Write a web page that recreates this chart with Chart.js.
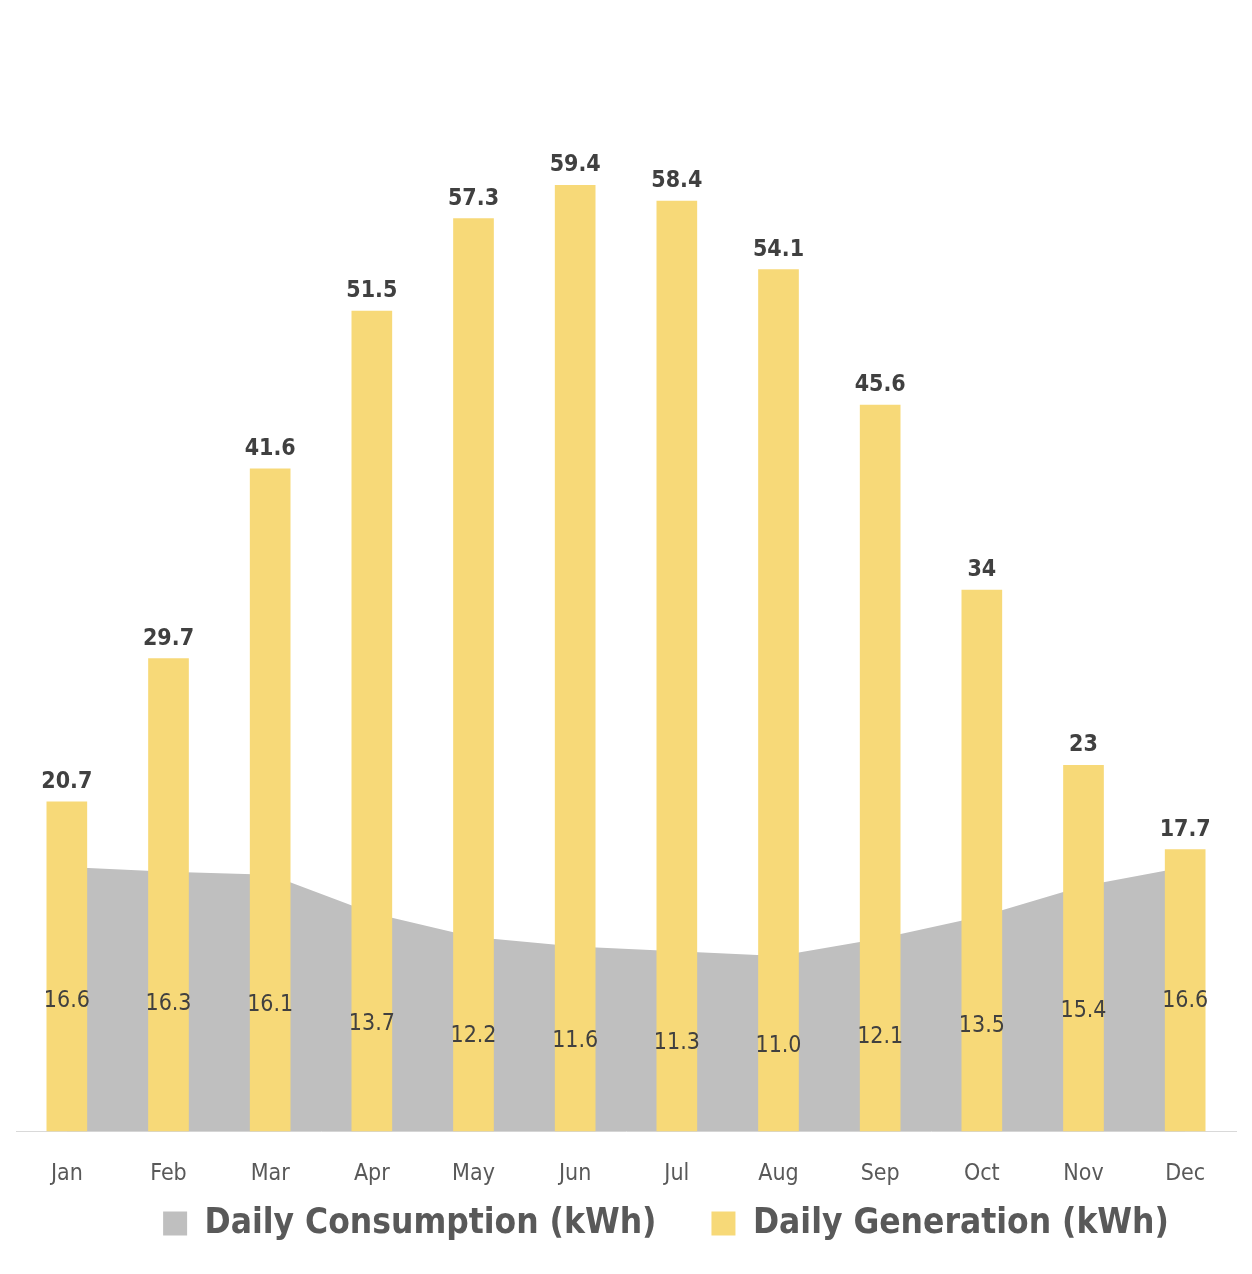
<!DOCTYPE html>
<html lang="en">
<head>
    <meta charset="UTF-8">
    <title>Daily Consumption vs Generation</title>
    <script src="https://cdn.jsdelivr.net/npm/chart.js"></script>
    <style>
        body { margin: 0; background: #fff; }
        #wrap { width: 1252px; height: 1274px; }
    </style>
</head>
<body>
    <div id="wrap"><canvas id="solarChart"></canvas></div>
    <script>
        // data
        var months = ['Jan', 'Feb', 'Mar', 'Apr', 'May', 'Jun', 'Jul', 'Aug', 'Sep', 'Oct', 'Nov', 'Dec'];
        var consumption = [16.6, 16.3, 16.1, 13.7, 12.2, 11.6, 11.3, 11.0, 12.1, 13.5, 15.4, 16.6];
        var generation = [20.7, 29.7, 41.6, 51.5, 57.3, 59.4, 58.4, 54.1, 45.6, 34, 23, 17.7];

        var FONT = '"DejaVu Sans Condensed", "DejaVu Sans", sans-serif';
        var LEGEND_GAP = 55;    // horizontal space between legend items
        var LEGEND_HEIGHT = 49; // room the legend takes below the axis
        var LEGEND_SHIFT = 58;  // pull legend items up (padding also adds vertical space)
        var LEGEND_NUDGE = 40;  // legend sits a bit right of centre

        // legend tweaks + value labels (no datalabels plugin available)
        var valueLabels = {
            id: 'valueLabels',
            beforeInit: function (chart) {
                var fit = chart.legend.fit;
                chart.legend.fit = function () {
                    fit.call(this);
                    this.height = LEGEND_HEIGHT;
                };
            },
            afterLayout: function (chart) {
                chart.legend.top -= LEGEND_SHIFT;
                chart.legend.left += LEGEND_NUDGE;
                chart.legend.right += LEGEND_NUDGE;
            },
            afterDatasetsDraw: function (chart) {
                var ctx = chart.ctx;
                var base = chart.scales.y.getPixelForValue(0);
                ctx.save();
                ctx.textAlign = 'center';
                ctx.fillStyle = '#404040';
                // consumption: centred inside the grey area
                var lineMeta = chart.getDatasetMeta(0);
                ctx.font = '23px ' + FONT;
                ctx.textBaseline = 'middle';
                lineMeta.data.forEach(function (pt, i) {
                    ctx.fillText(consumption[i].toFixed(1), pt.x, (pt.y + base) / 2 + 2);
                });
                // generation: bold, above the bar
                var barMeta = chart.getDatasetMeta(1);
                ctx.font = 'bold 23px ' + FONT;
                ctx.textBaseline = 'bottom';
                barMeta.data.forEach(function (bar, i) {
                    ctx.fillText(String(generation[i]), bar.x, bar.y - 8);
                });
                ctx.restore();
            }
        };

        var ctx = document.getElementById('solarChart').getContext('2d');
        new Chart(ctx, {
            data: {
                labels: months,
                datasets: [{
                    type: 'line',
                    label: 'Daily Consumption (kWh)',
                    data: consumption,
                    fill: 'origin',
                    backgroundColor: '#BFBFBF',
                    borderColor: '#BFBFBF',
                    borderWidth: 0,
                    pointRadius: 0,
                    tension: 0,
                    order: 2
                }, {
                    type: 'bar',
                    label: 'Daily Generation (kWh)',
                    data: generation,
                    backgroundColor: '#F7D978',
                    barPercentage: 0.4,
                    categoryPercentage: 1.0,
                    order: 1
                }]
            },
            options: {
                responsive: true,
                maintainAspectRatio: false,
                animation: false,
                layout: { padding: { top: 16, left: 16, right: 16, bottom: 16 } },
                scales: {
                    x: {
                        grid: { display: false },
                        border: { color: '#D9D9D9', width: 1 },
                        ticks: { color: '#595959', padding: 21, font: { family: FONT, size: 23 } }
                    },
                    y: {
                        display: false,
                        min: 0,
                        max: 70
                    }
                },
                plugins: {
                    tooltip: { enabled: false },
                    legend: {
                        position: 'bottom',
                        labels: {
                            color: '#595959',
                            boxWidth: 24,
                            boxHeight: 24,
                            padding: LEGEND_GAP,
                            sort: function (a, b) { return a.datasetIndex - b.datasetIndex; },
                            font: { family: FONT, size: 35, weight: 'bold', lineHeight: 1 }
                        }
                    }
                }
            },
            plugins: [valueLabels]
        });
    </script>
</body>
</html>
